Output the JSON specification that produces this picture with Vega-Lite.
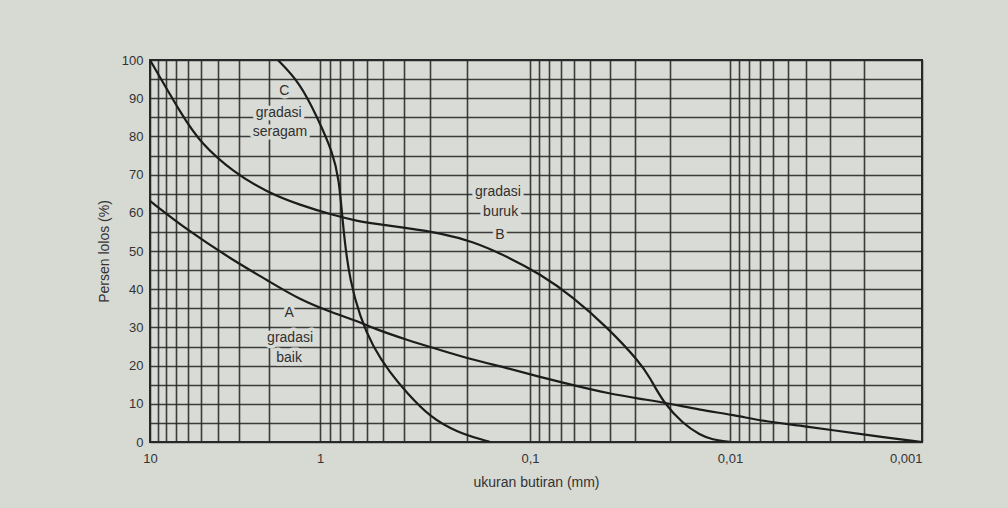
{
  "$schema": "https://vega.github.io/schema/vega-lite/v6.json",
  "autosize": {"type": "none"},
  "padding": {"left": 150, "top": 60, "right": 86, "bottom": 66},
  "width": 772,
  "height": 382,
  "background": "#d7d9d3",
  "config": {
    "view": {"stroke": "#262626", "strokeWidth": 2, "fill": "#d9dbd6"},
    "axis": {
      "gridColor": "#2a2a2a",
      "gridWidth": 1.6,
      "gridOpacity": 0.9,
      "domain": false,
      "ticks": false,
      "labelFont": "Liberation Sans",
      "labelFontSize": 13,
      "labelColor": "#333333",
      "titleFont": "Liberation Sans",
      "titleFontSize": 14,
      "titleFontWeight": "normal",
      "titleColor": "#333333"
    }
  },
  "datasets": {
    "curves": [
      {"curve": "B", "size": 10, "pct": 100},
      {"curve": "B", "size": 6.4, "pct": 85.1},
      {"curve": "B", "size": 5.08, "pct": 78.5},
      {"curve": "B", "size": 3.25, "pct": 70.7},
      {"curve": "B", "size": 2.05, "pct": 65.4},
      {"curve": "B", "size": 1.31, "pct": 62.0},
      {"curve": "B", "size": 0.867, "pct": 59.4},
      {"curve": "B", "size": 0.645, "pct": 57.7},
      {"curve": "B", "size": 0.56, "pct": 57.2},
      {"curve": "B", "size": 0.385, "pct": 56.0},
      {"curve": "B", "size": 0.268, "pct": 54.7},
      {"curve": "B", "size": 0.187, "pct": 52.5},
      {"curve": "B", "size": 0.129, "pct": 48.6},
      {"curve": "B", "size": 0.0891, "pct": 44.0},
      {"curve": "B", "size": 0.061, "pct": 38.0},
      {"curve": "B", "size": 0.0412, "pct": 30.1},
      {"curve": "B", "size": 0.0282, "pct": 20.9},
      {"curve": "B", "size": 0.0251, "pct": 16.8},
      {"curve": "B", "size": 0.0216, "pct": 10.4},
      {"curve": "B", "size": 0.0172, "pct": 4.8},
      {"curve": "B", "size": 0.0141, "pct": 1.8},
      {"curve": "B", "size": 0.0122, "pct": 0.6},
      {"curve": "B", "size": 0.0104, "pct": 0.1},
      {"curve": "B", "size": 0.01, "pct": 0},
      {"curve": "A", "size": 10, "pct": 63.1},
      {"curve": "A", "size": 6.05, "pct": 55.5},
      {"curve": "A", "size": 3.25, "pct": 47.6},
      {"curve": "A", "size": 2.05, "pct": 42.4},
      {"curve": "A", "size": 1.31, "pct": 37.2},
      {"curve": "A", "size": 0.867, "pct": 33.8},
      {"curve": "A", "size": 0.645, "pct": 31.4},
      {"curve": "A", "size": 0.56, "pct": 29.8},
      {"curve": "A", "size": 0.385, "pct": 26.7},
      {"curve": "A", "size": 0.268, "pct": 24.1},
      {"curve": "A", "size": 0.187, "pct": 21.5},
      {"curve": "A", "size": 0.129, "pct": 19.4},
      {"curve": "A", "size": 0.0891, "pct": 17.0},
      {"curve": "A", "size": 0.061, "pct": 14.9},
      {"curve": "A", "size": 0.0412, "pct": 12.8},
      {"curve": "A", "size": 0.0282, "pct": 11.3},
      {"curve": "A", "size": 0.0207, "pct": 10.2},
      {"curve": "A", "size": 0.0141, "pct": 8.4},
      {"curve": "A", "size": 0.00965, "pct": 7.1},
      {"curve": "A", "size": 0.00641, "pct": 5.3},
      {"curve": "A", "size": 0.00431, "pct": 4.3},
      {"curve": "A", "size": 0.00291, "pct": 3.1},
      {"curve": "A", "size": 0.00193, "pct": 1.8},
      {"curve": "A", "size": 0.001, "pct": 0},
      {"curve": "C", "size": 1.77, "pct": 100},
      {"curve": "C", "size": 1.31, "pct": 94.0},
      {"curve": "C", "size": 1.04, "pct": 85.1},
      {"curve": "C", "size": 0.867, "pct": 75.7},
      {"curve": "C", "size": 0.812, "pct": 68.6},
      {"curve": "C", "size": 0.786, "pct": 59.9},
      {"curve": "C", "size": 0.76, "pct": 51.6},
      {"curve": "C", "size": 0.72, "pct": 42.4},
      {"curve": "C", "size": 0.645, "pct": 32.7},
      {"curve": "C", "size": 0.56, "pct": 24.9},
      {"curve": "C", "size": 0.464, "pct": 18.1},
      {"curve": "C", "size": 0.385, "pct": 12.8},
      {"curve": "C", "size": 0.299, "pct": 6.5},
      {"curve": "C", "size": 0.223, "pct": 2.6},
      {"curve": "C", "size": 0.167, "pct": 0.5},
      {"curve": "C", "size": 0.155, "pct": 0}
    ],
    "notes": [
      {"text": "C", "size": 1.62, "pct": 91.9},
      {"text": "gradasi", "size": 1.75, "pct": 86.1},
      {"text": "seragam", "size": 1.72, "pct": 81.2},
      {"text": "gradasi", "size": 0.142, "pct": 65.4},
      {"text": "buruk", "size": 0.138, "pct": 60.2},
      {"text": "B", "size": 0.139, "pct": 54.2},
      {"text": "A", "size": 1.52, "pct": 33.8},
      {"text": "gradasi", "size": 1.5, "pct": 27.2},
      {"text": "baik", "size": 1.52, "pct": 22.0}
    ]
  },
  "encoding": {
    "x": {
      "field": "size",
      "type": "quantitative",
      "scale": {"type": "log", "domain": [10, 1, 0.1, 0.01, 0.001], "range": [0, 170, 380, 580, 772], "nice": false, "zero": false},
      "axis": {
        "title": "ukuran butiran (mm)",
        "titlePadding": 10,
        "labelPadding": 10,
        "labelOverlap": false,
        "labelFlush": false,
        "labelAlign": {"condition": {"test": "datum.value == 0.001", "value": "right"}, "value": "center"},
        "values": [10, 9, 8, 7, 6, 5, 4, 3, 2, 1, 0.9, 0.8, 0.7, 0.6, 0.5, 0.4, 0.3, 0.2, 0.1, 0.09, 0.08, 0.07, 0.06, 0.05, 0.04, 0.03, 0.02, 0.01, 0.009, 0.008, 0.007, 0.006, 0.005, 0.004, 0.003, 0.002, 0.001],
        "labelExpr": "datum.value == 10 ? '10' : datum.value == 1 ? '1' : datum.value == 0.1 ? '0,1' : datum.value == 0.01 ? '0,01' : datum.value == 0.001 ? '0,001' : ''"
      }
    },
    "y": {
      "field": "pct",
      "type": "quantitative",
      "scale": {"domain": [0, 100], "nice": false},
      "axis": {
        "title": "Persen lolos (%)",
        "titlePadding": 10,
        "labelPadding": 7,
        "values": [0, 5, 10, 15, 20, 25, 30, 35, 40, 45, 50, 55, 60, 65, 70, 75, 80, 85, 90, 95, 100],
        "labelExpr": "datum.value % 10 == 0 ? datum.label : ''"
      }
    }
  },
  "layer": [
    {
      "data": {"name": "curves"},
      "mark": {"type": "line", "interpolate": "basis", "color": "#1c1c1c", "strokeWidth": 2.2, "clip": true},
      "encoding": {"detail": {"field": "curve"}}
    },
    {
      "data": {"name": "notes"},
      "mark": {"type": "text", "font": "Liberation Sans", "fontSize": 14, "align": "center", "baseline": "middle", "stroke": "#d9dbd6", "strokeWidth": 7, "strokeJoin": "round", "fill": "#d9dbd6"},
      "encoding": {"text": {"field": "text"}}
    },
    {
      "data": {"name": "notes"},
      "mark": {"type": "text", "font": "Liberation Sans", "fontSize": 14, "align": "center", "baseline": "middle", "color": "#303030"},
      "encoding": {"text": {"field": "text"}}
    }
  ]
}
